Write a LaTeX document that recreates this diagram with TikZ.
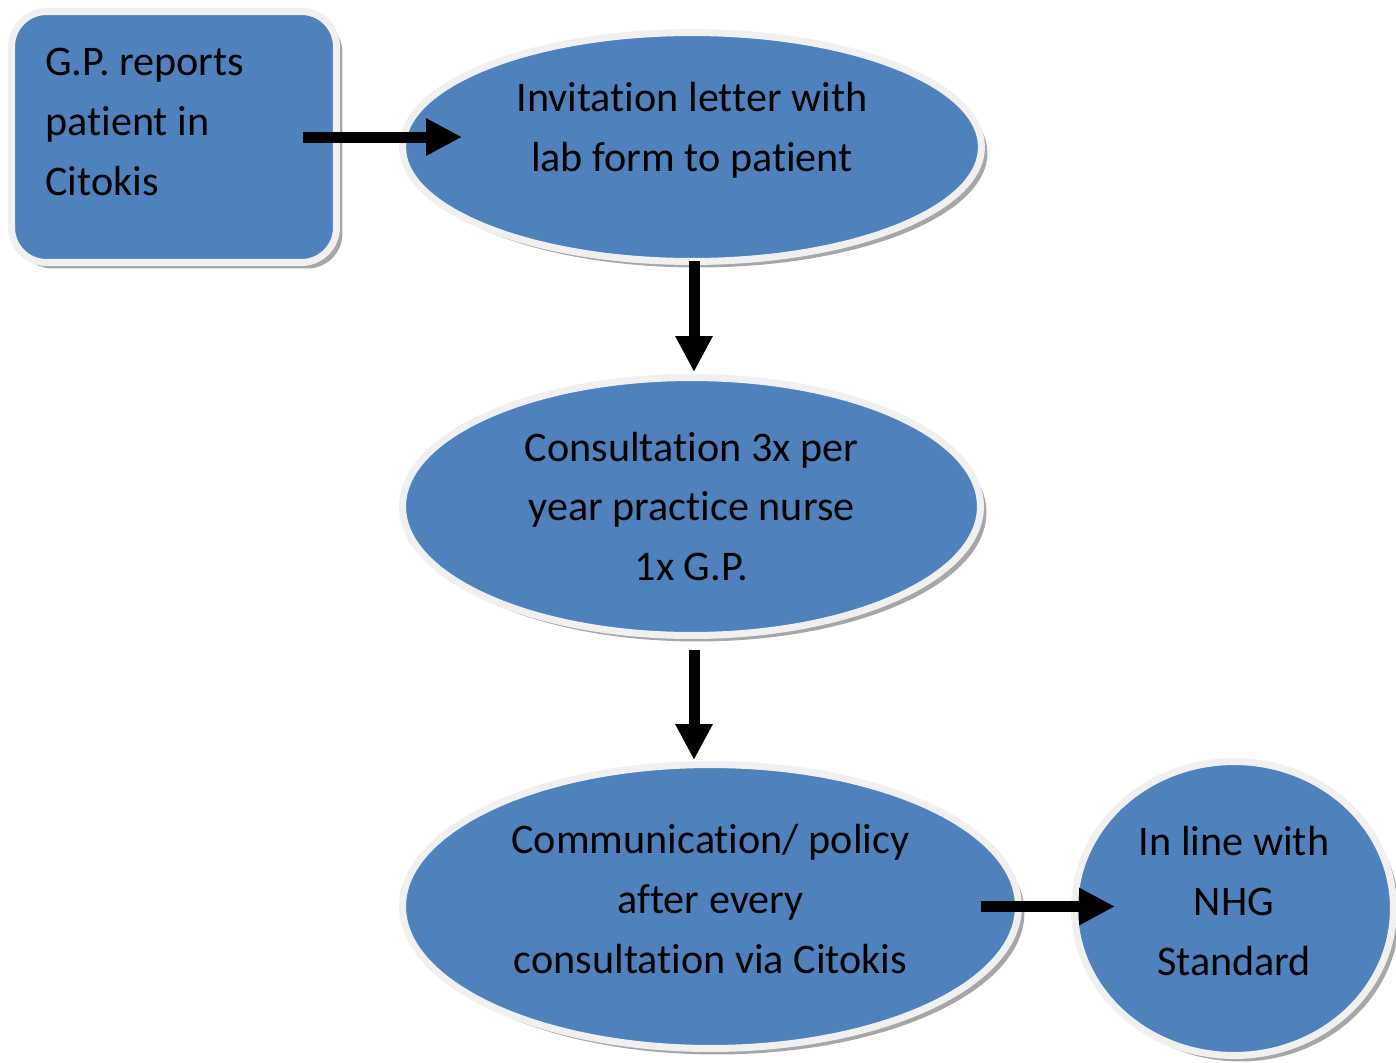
\documentclass[tikz,border=0pt]{standalone}
\usepackage{fontspec}
\setmainfont{Carlito}[Ligatures=NoCommon]
\usetikzlibrary{shapes.geometric,arrows.meta,shadows}

\definecolor{stepblue}{HTML}{4F81BD}
\definecolor{rimgray}{HTML}{F0F0F0}

\begin{document}
\begin{tikzpicture}[x=0.02cm,y=-0.02cm,
  every node/.style={font=\fontsize{24pt}{34pt}\selectfont},
  base/.style={fill=stepblue, draw=rimgray, line width=0.14cm, inner sep=0pt, outer sep=0pt,
    drop shadow={shadow xshift=0.12cm,shadow yshift=-0.12cm,fill=gray!70,opacity=1}},
  card/.style={base, rectangle, rounded corners=0.7cm, minimum width=6.5cm, minimum height=5.02cm},
  oval/.style={base, ellipse, align=center},
  txt/.style={inner sep=0pt},
  flow/.style={-{Triangle[length=0.72cm,width=0.7cm]}, line width=0.22cm}]
	\useasboundingbox (0,0) rectangle (1396,1062);

	% boxes
	\node[card] (gp) at (174,137) {};
	\node[txt, align=left, anchor=west] (gptext) at (45,122) {G.P. reports\\patient in\\Citokis};
	\node[oval, minimum width=11.58cm, minimum height=4.58cm] (inv) at (692,147) {};
	\node[txt, align=center] (invtext) at (692,130) {Invitation letter with\\lab form to patient};
	\node[oval, minimum width=11.56cm, minimum height=5.16cm] (cons) at (691.5,506.5) {Consultation 3x per\\year practice nurse\\1x G.P.};
	\node[oval, minimum width=12.32cm, minimum height=5.68cm] (comm) at (710.5,906.5) {};
	\node[txt, align=center] (commtext) at (710.5,899) {Communication/ policy\\after every\\consultation via Citokis};
	\node[oval, minimum width=6.38cm, minimum height=5.88cm] (nhg) at (1234,908.5) {};
	\node[txt, align=center] (nhgtext) at (1234,901) {In line with\\NHG\\Standard};

	% arrows
	\draw[flow] ([xshift=-0.67cm]gp.east) -- ([xshift=1.19cm]gp.east -| inv.west);
	\draw[flow] ([xshift=0.04cm]inv.south) -- ([xshift=0.04cm,yshift=0.11cm]inv.south |- cons.north);
	\draw[flow] ([xshift=0.05cm,yshift=-0.29cm]cons.south) -- ([xshift=0.05cm,yshift=0.09cm]cons.south |- comm.north);
	\draw[flow] ([xshift=-0.75cm]comm.east) -- ([xshift=0.81cm]comm.east -| nhg.west);
\end{tikzpicture}
\end{document}
